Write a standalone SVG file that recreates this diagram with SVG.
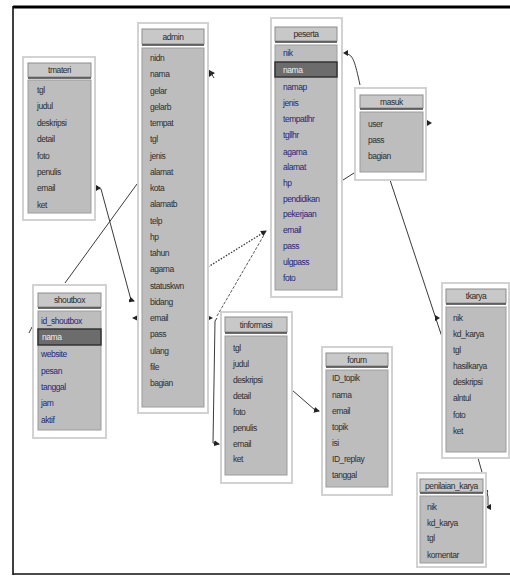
<svg xmlns="http://www.w3.org/2000/svg" width="510" height="576" viewBox="0 0 510 576">
<defs>
<style>
.panel{fill:#ffffff;stroke:#d2d2d2;stroke-width:2}
.hdr{fill:#c8c8c8;stroke:#8c8c8c;stroke-width:1}
.hline{stroke:#3c3c3c;stroke-width:1.6}
.body{fill:#bdbdbd;stroke:#9c9c9c;stroke-width:1}
.sel{fill:#6c6c6c;stroke:#2e2e2e;stroke-width:1.4}
text{font-family:"Liberation Sans",Arial,sans-serif;font-size:8.5px;letter-spacing:-0.45px}
.t{fill:#2a2a2a;text-anchor:middle}
.f{fill:#2e2e2e}
.b{fill:#25257a}
.w{fill:#f0f0f0}
.ln{fill:none;stroke:#3a3a3a;stroke-width:1}
.dot{fill:none;stroke:#3a3a3a;stroke-width:1.3;stroke-dasharray:1.5 1.5}
.dash{fill:none;stroke:#5a5a5a;stroke-width:1;stroke-dasharray:3 1.5}
.mk{fill:#222}
</style>
<marker id="ah" markerWidth="6" markerHeight="6" refX="5" refY="3" orient="auto" markerUnits="userSpaceOnUse">
<path d="M0,0 L6,3 L0,6 Z" fill="#222"/>
</marker>
</defs>
<rect x="0" y="0" width="510" height="576" fill="#ffffff"/>
<path d="M13,7 H510" stroke="#000" stroke-width="3" fill="none"/>
<path d="M13,6 V575 M13,574 H510" stroke="#111" stroke-width="1.6" fill="none"/>

<g id="connectors">
<path class="ln" d="M97,188 L101,189 L131,300 L134,301" marker-end="url(#ah)"/>
<path class="mk" d="M96,185 L101,188 L96,191 Z"/>
<path class="ln" d="M65,283 L137,184"/>
<path class="ln" d="M29,333 L32,327"/>
<path class="mk" d="M138,315 L132,318 L138,321 Z"/>
<path class="mk" d="M209,70 L215,73 L209,77 Z"/>
<path class="ln" d="M209,70 L214,78"/>
<path class="dot" d="M208,267 L266,231" marker-end="url(#ah)"/>
<path class="dash" d="M217,316 L264,235"/>
<path class="mk" d="M209,316 L213,318 L209,320 Z"/>
<path class="ln" d="M217,318 L215,321 L213,443 L219,444" marker-end="url(#ah)"/>
<path class="ln" d="M292,390 L315,410 L319,411" marker-end="url(#ah)"/>
<path class="mk" d="M343,53 L348,50 L348,56 Z"/>
<path class="ln" d="M347,54 C353,55 355,62 360,85"/>
<path class="ln" d="M354,173 L343,180"/>
<path class="mk" d="M427,120 L432,123 L427,126 Z"/>
<path class="ln" d="M390,180 L442,337"/>
<path class="mk" d="M435,315 L440,318 L435,321 Z"/>
<path class="ln" d="M478,458 L485,483 L488,497 L488,505"/>
<path class="ln" d="M484,487 L488,491 L485,495"/>
<path class="mk" d="M491,504 L485,507 L491,510 Z"/>
</g>

<g id="tmateri">
<rect class="panel" x="23" y="57" width="72" height="163"/>
<rect class="hdr" x="28" y="63" width="63" height="14"/>
<line class="hline" x1="28" y1="78" x2="91" y2="78"/>
<rect class="body" x="28" y="80" width="63" height="133"/>
<text class="t" x="59.5" y="73">tmateri</text>
<text class="f" x="37" y="93">tgl</text>
<text class="f" x="37" y="109.4">judul</text>
<text class="f" x="37" y="125.8">deskripsi</text>
<text class="f" x="37" y="142.2">detail</text>
<text class="f" x="37" y="158.6">foto</text>
<text class="f" x="37" y="175">penulis</text>
<text class="f" x="37" y="191.4">email</text>
<text class="f" x="37" y="207.8">ket</text>
</g>

<g id="admin">
<rect class="panel" x="138" y="23" width="70" height="390"/>
<rect class="hdr" x="142" y="29" width="62" height="15"/>
<line class="hline" x1="142" y1="45" x2="204" y2="45"/>
<rect class="body" x="142" y="48" width="62" height="359"/>
<text class="t" x="173" y="40">admin</text>
<text class="f" x="150" y="61">nidn</text>
<text class="f" x="150" y="77.25">nama</text>
<text class="f" x="150" y="93.5">gelar</text>
<text class="f" x="150" y="109.75">gelarb</text>
<text class="f" x="150" y="126">tempat</text>
<text class="f" x="150" y="142.25">tgl</text>
<text class="f" x="150" y="158.5">jenis</text>
<text class="f" x="150" y="174.75">alamat</text>
<text class="f" x="150" y="191">kota</text>
<text class="f" x="150" y="207.25">alamatb</text>
<text class="f" x="150" y="223.5">telp</text>
<text class="f" x="150" y="239.75">hp</text>
<text class="f" x="150" y="256">tahun</text>
<text class="f" x="150" y="272.25">agama</text>
<text class="f" x="150" y="288.5">statuskwn</text>
<text class="f" x="150" y="304.75">bidang</text>
<text class="f" x="150" y="321">email</text>
<text class="f" x="150" y="337.25">pass</text>
<text class="f" x="150" y="353.5">ulang</text>
<text class="f" x="150" y="369.75">file</text>
<text class="f" x="150" y="386">bagian</text>
</g>

<g id="peserta">
<rect class="panel" x="271" y="18" width="71" height="279"/>
<rect class="hdr" x="275" y="27" width="62" height="14"/>
<line class="hline" x1="275" y1="42" x2="337" y2="42"/>
<rect class="body" x="275" y="45" width="62" height="245"/>
<rect class="sel" x="275" y="62" width="62" height="15"/>
<text class="t" x="306" y="37">peserta</text>
<text class="b" x="283" y="56">nik</text>
<text class="w" x="283" y="72.5">nama</text>
<text class="b" x="283" y="90">namap</text>
<text class="b" x="283" y="106">jenis</text>
<text class="b" x="283" y="122">tempatlhr</text>
<text class="b" x="283" y="138">tgllhr</text>
<text class="b" x="283" y="154.5">agama</text>
<text class="b" x="283" y="170">alamat</text>
<text class="b" x="283" y="186">hp</text>
<text class="b" x="283" y="201.5">pendidikan</text>
<text class="b" x="283" y="217">pekerjaan</text>
<text class="b" x="283" y="233">email</text>
<text class="b" x="283" y="249">pass</text>
<text class="b" x="283" y="265">ulgpass</text>
<text class="b" x="283" y="281">foto</text>
</g>

<g id="masuk">
<rect class="panel" x="355" y="88" width="71" height="92"/>
<rect class="hdr" x="360" y="95" width="63" height="13"/>
<line class="hline" x1="360" y1="109" x2="423" y2="109"/>
<rect class="body" x="360" y="112" width="63" height="60"/>
<text class="t" x="391.5" y="105">masuk</text>
<text class="f" x="368" y="127">user</text>
<text class="f" x="368" y="143">pass</text>
<text class="f" x="368" y="159">bagian</text>
</g>

<g id="tkarya">
<rect class="panel" x="442" y="283" width="67" height="175"/>
<rect class="hdr" x="446" y="289" width="60" height="14"/>
<line class="hline" x1="446" y1="304" x2="506" y2="304"/>
<rect class="body" x="446" y="307" width="60" height="145"/>
<text class="t" x="476" y="299">tkarya</text>
<text class="f" x="453" y="321">nik</text>
<text class="f" x="453" y="337">kd_karya</text>
<text class="f" x="453" y="353">tgl</text>
<text class="f" x="453" y="369">hasilkarya</text>
<text class="f" x="453" y="385">deskripsi</text>
<text class="f" x="453" y="401">alntul</text>
<text class="f" x="453" y="418">foto</text>
<text class="f" x="453" y="434">ket</text>
</g>

<g id="tinformasi">
<rect class="panel" x="221" y="312" width="71" height="171"/>
<rect class="hdr" x="225" y="317" width="62" height="15"/>
<line class="hline" x1="225" y1="333" x2="287" y2="333"/>
<rect class="body" x="225" y="336" width="62" height="139"/>
<text class="t" x="256" y="328">tinformasi</text>
<text class="f" x="233" y="351">tgl</text>
<text class="f" x="233" y="367">judul</text>
<text class="f" x="233" y="383">deskripsi</text>
<text class="f" x="233" y="398.5">detail</text>
<text class="f" x="233" y="414.5">foto</text>
<text class="f" x="233" y="430.5">penulis</text>
<text class="f" x="233" y="446.5">email</text>
<text class="f" x="233" y="462">ket</text>
</g>

<g id="forum">
<rect class="panel" x="322" y="347" width="70" height="148"/>
<rect class="hdr" x="326" y="353" width="62" height="13"/>
<line class="hline" x1="326" y1="367" x2="388" y2="367"/>
<rect class="body" x="326" y="370" width="62" height="117"/>
<text class="t" x="357" y="363">forum</text>
<text class="f" x="332" y="381">ID_topik</text>
<text class="f" x="332" y="397.5">nama</text>
<text class="f" x="332" y="414">email</text>
<text class="f" x="332" y="430">topik</text>
<text class="f" x="332" y="446">isi</text>
<text class="f" x="332" y="462">ID_replay</text>
<text class="f" x="332" y="477.5">tanggal</text>
</g>

<g id="penilaian_karya">
<rect class="panel" x="417" y="473" width="69" height="94"/>
<rect class="hdr" x="420" y="479" width="63" height="13"/>
<line class="hline" x1="420" y1="493" x2="483" y2="493"/>
<rect class="body" x="420" y="496" width="63" height="67"/>
<text class="t" x="451.5" y="489">penilaian_karya</text>
<text class="f" x="427" y="510">nik</text>
<text class="f" x="427" y="525.5">kd_karya</text>
<text class="f" x="427" y="541">tgl</text>
<text class="f" x="427" y="557.5">komentar</text>
</g>

<g id="shoutbox">
<rect class="panel" x="33" y="285" width="73" height="153"/>
<rect class="hdr" x="38" y="293" width="63" height="14"/>
<line class="hline" x1="38" y1="308" x2="101" y2="308"/>
<rect class="body" x="38" y="311" width="63" height="119"/>
<rect class="sel" x="38" y="329" width="63" height="16"/>
<text class="t" x="69.5" y="303">shoutbox</text>
<text class="b" x="41" y="324">id_shoutbox</text>
<text class="w" x="42" y="340">nama</text>
<text class="b" x="41" y="357">website</text>
<text class="b" x="41" y="374">pesan</text>
<text class="b" x="41" y="390">tanggal</text>
<text class="b" x="41" y="406">jam</text>
<text class="b" x="41" y="423">aktif</text>
</g>
</svg>
